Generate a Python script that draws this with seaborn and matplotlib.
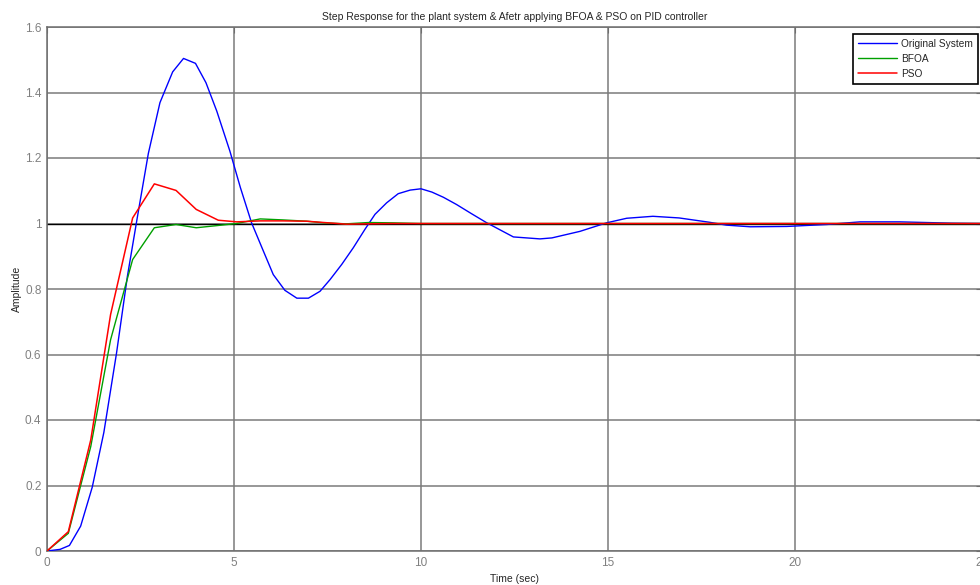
import numpy as np
import pandas as pd
import matplotlib
matplotlib.use('Agg')
import matplotlib.pyplot as plt
import seaborn as sns

# step response
t_orig = [0, 0.35, 0.6, 0.9, 1.21, 1.52, 1.86, 2.15, 2.42, 2.71, 3.02, 3.36,
          3.65, 3.97, 4.25, 4.54, 4.89, 5.17, 5.47, 5.77, 6.05, 6.36, 6.68,
          6.99, 7.30, 7.57, 7.88, 8.19, 8.50, 8.77, 9.08, 9.39, 9.71, 10.0,
          10.29, 10.6, 10.95, 11.35, 11.76, 12.47, 13.18, 13.5, 14.25, 14.96,
          15.5, 16.2, 16.9, 17.7, 18.17, 18.8, 19.78, 20.85, 21.74, 22.8,
          24.2, 25.0]
y_orig = [0, 0.005, 0.017, 0.076, 0.195, 0.362, 0.605, 0.839, 1.022, 1.214,
          1.369, 1.463, 1.504, 1.489, 1.43, 1.343, 1.221, 1.11, 1.002, 0.92,
          0.844, 0.796, 0.772, 0.772, 0.793, 0.829, 0.875, 0.926, 0.982,
          1.028, 1.063, 1.091, 1.102, 1.106, 1.096, 1.080, 1.058, 1.03, 1.002,
          0.959, 0.953, 0.956, 0.976, 1.002, 1.016, 1.022, 1.017, 1.004,
          0.995, 0.990, 0.991, 0.997, 1.005, 1.005, 1.001, 1.0]

t_opt = [0, 0.57, 1.17, 1.70, 2.29, 2.87, 3.45, 3.99, 4.58, 5.07, 5.7, 6.3,
         6.94, 7.4, 8.0, 8.6, 9.25, 10.0, 15.0, 20.0, 25.0]
y_bfoa = [0, 0.054, 0.319, 0.645, 0.89, 0.987, 0.997, 0.987, 0.994, 1.0,
          1.014, 1.011, 1.007, 1.002, 0.999, 1.003, 1.002, 1.0, 1.0, 1.0, 1.0]
y_pso = [0, 0.059, 0.339, 0.722, 1.017, 1.121, 1.101, 1.043, 1.010, 1.005,
         1.008, 1.008, 1.007, 1.003, 0.998, 0.999, 1.0, 1.0, 1.0, 1.0, 1.0]

sns.set_style('white')
plt.rcParams['font.family'] = ['Liberation Sans', 'DejaVu Sans']

fig = plt.figure(figsize=(9.8, 5.85), dpi=100)
ax = fig.add_axes([47/980, 34/585, 935/980, 524/585])

ax.axhline(1.0, color='k', linewidth=1, zorder=2)

sns.lineplot(x=t_orig, y=y_orig, ax=ax, color='#0000ff', linewidth=1,
             label='Original System', zorder=3)
sns.lineplot(x=t_opt, y=y_bfoa, ax=ax, color='#00a000', linewidth=1,
             label='BFOA', zorder=3)
sns.lineplot(x=t_opt, y=y_pso, ax=ax, color='#ff0000', linewidth=1.1,
             label='PSO', zorder=4)

ax.set_xlim(0, 25)
ax.set_ylim(0, 1.6)
ax.set_xticks([0, 5, 10, 15, 20, 25])
ax.set_xticklabels(['0', '5', '10', '15', '20', '25'])
ax.set_yticks([0, 0.2, 0.4, 0.6, 0.8, 1.0, 1.2, 1.4, 1.6])
ax.set_yticklabels(['0', '0.2', '0.4', '0.6', '0.8', '1', '1.2', '1.4', '1.6'])

ax.grid(True, color='#7a7a7a', linewidth=1.1, linestyle='-')
ax.set_axisbelow(True)
for s in ax.spines.values():
    s.set_color('#6e6e6e')
    s.set_linewidth(1.1)
ax.tick_params(axis='both', direction='in', length=4, colors='#6e6e6e',
               labelcolor='#808080', labelsize=8.5, pad=4,
               top=True, right=True)

ax.set_title('Step Response for the plant system & Afetr applying BFOA & PSO on PID controller',
             fontsize=7.5, pad=5)
ax.set_xlabel('Time (sec)', fontsize=7.5, labelpad=4)
ax.set_ylabel('Amplitude', fontsize=7.5, labelpad=2)

leg = ax.legend(loc='upper right', bbox_to_anchor=(0.996, 0.987),
                borderaxespad=0, fontsize=7.3, frameon=True, fancybox=False,
                handlelength=3.8, handletextpad=0.45, labelspacing=0.5,
                borderpad=0.5)
leg.get_frame().set_edgecolor('black')
leg.get_frame().set_linewidth(1.2)
leg.get_frame().set_alpha(1)

fig.savefig('out.png', dpi=100)
